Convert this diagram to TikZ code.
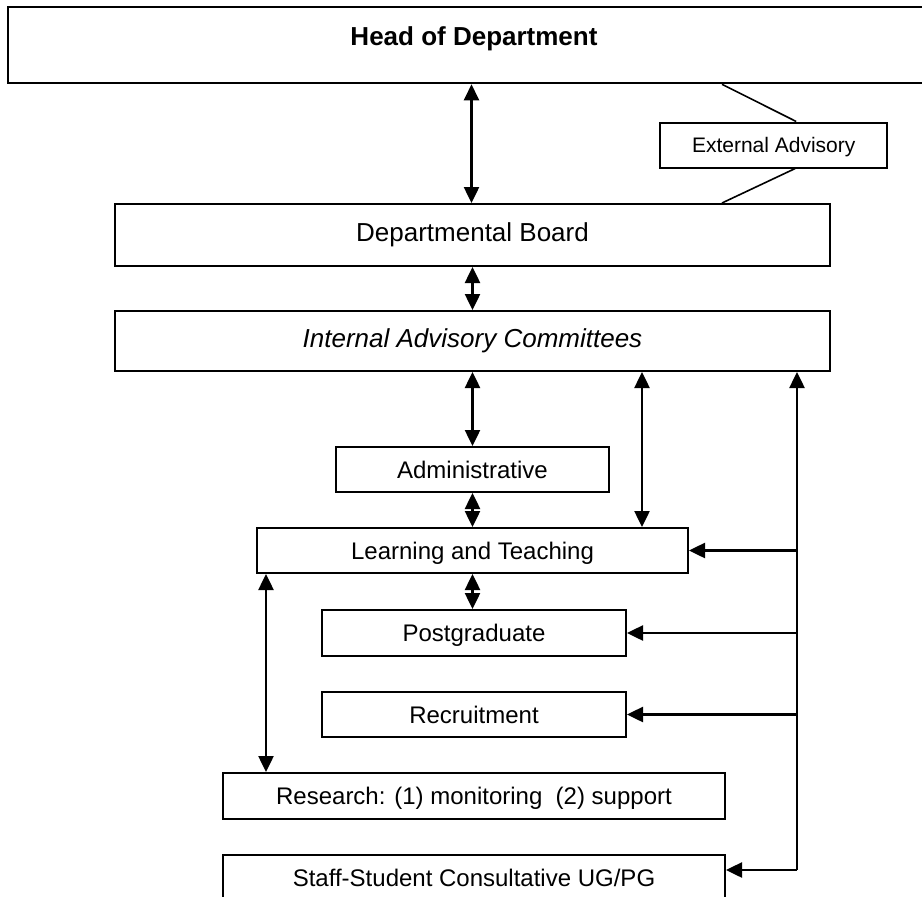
\documentclass[tikz,border=0pt]{standalone}
\usepackage{fontspec}
\setmainfont{Liberation Sans}
\usetikzlibrary{arrows.meta}

\tikzset{
  box/.style={draw, line width=2pt, inner sep=0pt, minimum height=45pt,
    text depth=0pt, font=\fontsize{24}{28}\selectfont},
  bigbox/.style={draw, line width=2pt, inner sep=0pt, minimum width=715pt,
    font=\fontsize{26}{30}\selectfont},
  twoway/.style={line width=2.5pt, <->},
  oneway/.style={line width=2.5pt, ->},
}

\begin{document}
\begin{tikzpicture}[x=1pt, y=-1pt, >={Triangle[length=16pt,width=15pt]}]
      \useasboundingbox (0,0) rectangle (922,897);

      % Top level
      \node[bigbox, font=\bfseries\fontsize{26}{30}\selectfont, minimum width=932pt,
        minimum height=76pt, text depth=18pt] (head) at (474,45.3) {Head of Department};
      \node[box, font=\fontsize{21}{25}\selectfont, minimum width=227pt,
        minimum height=45pt] (ext) at (773.7,145) {External Advisory};

      \node[bigbox, minimum height=62pt] (board) at (472.5,235) {Departmental Board};
      \node[bigbox, minimum height=60pt] (internal) at (472.5,341) {\itshape Internal Advisory Committees};

      % Committees
      \node[box, minimum width=273pt] (admin) at (472.5,469.5) {Administrative};
      \node[box, minimum width=431pt] (learn) at (472.5,550.5) {Learning and Teaching};
      \node[box, minimum width=304pt, minimum height=46pt] (post) at (474,633) {Postgraduate};
      \node[box, minimum width=304pt] (recruit) at (474,714.5) {Recruitment};
      \node[box, minimum width=502pt, minimum height=46pt] (research) at (474,796) {Research: (1) monitoring\ \ (2) support};
      \node[box, minimum width=502pt, minimum height=46pt] (staff) at (474,878) {Staff-Student Consultative UG/PG};

      \coordinate (bus) at (797,870);

      % External advisory links
      \draw[line width=1.6pt] ([xshift=248pt]head.south) -- ([xshift=22.5pt]ext.north);
      \draw[line width=1.6pt] ([xshift=21.5pt]ext.south) -- ([xshift=249.5pt]board.north);

      \draw[twoway] (head.south -| 471.5,0) -- (board.north -| 471.5,0);
      \draw[twoway] (board.south) -- (internal.north);
      \draw[twoway] (internal.south) -- (admin.north);
      \draw[twoway] (admin.south) -- (admin.south |- learn.north);
      \draw[twoway] (learn.south) -- (learn.south |- post.north);
      \draw[twoway] ([xshift=-47pt]learn.north east |- internal.south) -- ([xshift=-47pt]learn.north east);
      \draw[twoway] ([xshift=10pt]learn.south west) -- ([xshift=10pt]learn.south west |- research.north);

      % Feedback line on the right
      \draw[oneway] (bus) -- (bus |- internal.south);
      \foreach \c in {learn, post, recruit}
        \draw[oneway] (bus |- \c.east) -- (\c.east);
      \draw[oneway] (bus) -- (bus -| staff.east);

\end{tikzpicture}
\end{document}
